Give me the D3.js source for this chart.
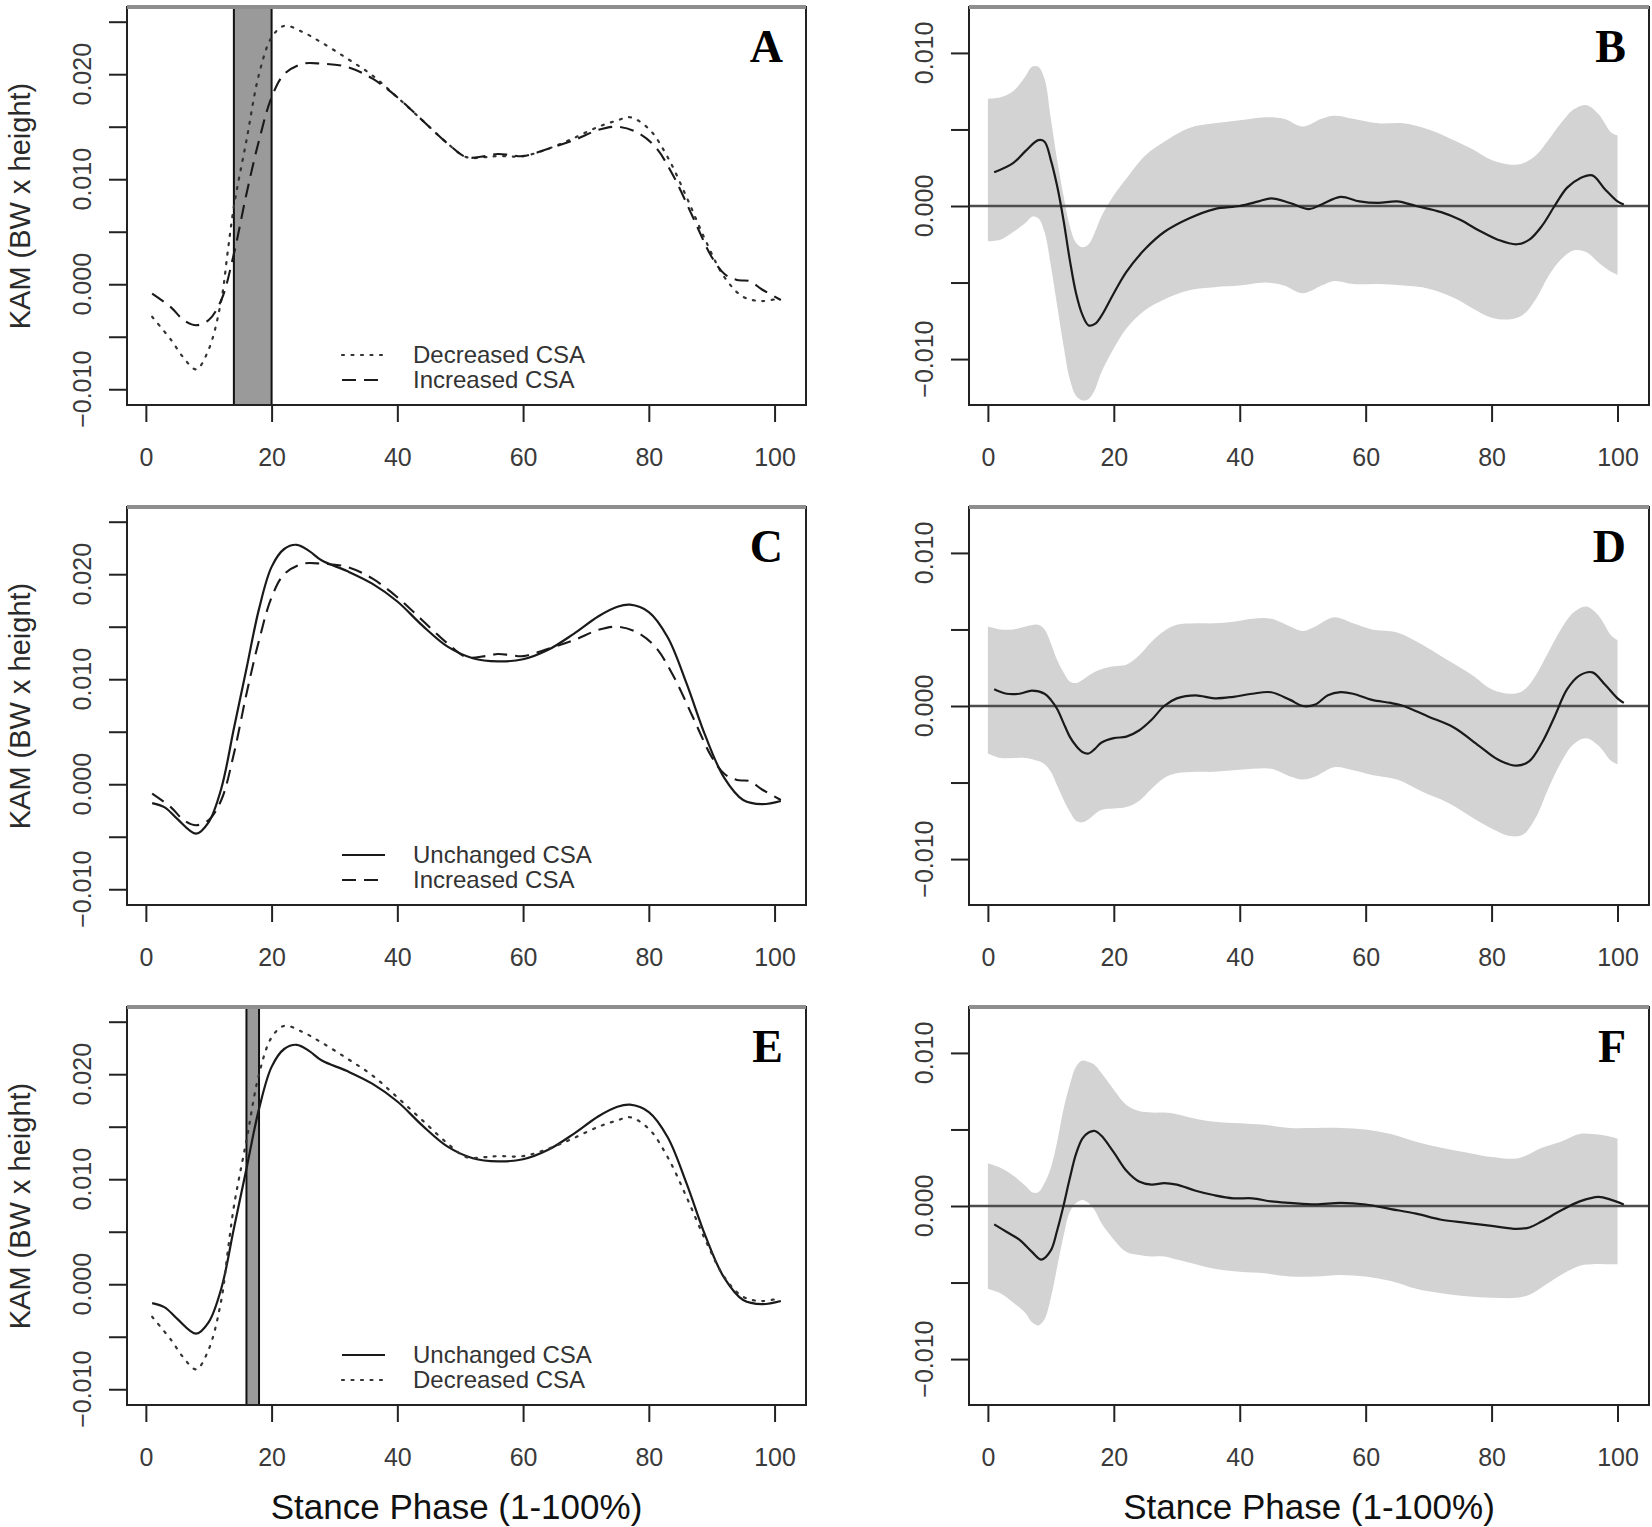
<!DOCTYPE html>
<html><head><meta charset="utf-8">
<script src="https://cdn.jsdelivr.net/npm/d3@7"></script>
<style>body{margin:0;background:#fff} svg{display:block}</style>
</head><body>
<svg id="c" width="1652" height="1527"></svg>
<script>
// ---------- tick definitions ----------
const xTicks = [0, 20, 40, 60, 80, 100];
const kamTicks = [-0.010, -0.005, 0, 0.005, 0.010, 0.015, 0.020, 0.025];
const kamLabels = [-0.010, 0, 0.010, 0.020];
const diffTicks = [-0.010, -0.005, 0, 0.005, 0.010];
const diffLabels = [-0.010, 0, 0.010];
const xTitle = "Stance Phase (1-100%)";
const yTitle = "KAM (BW x height)";

// ---------- KAM curves (x = stance %, value) ----------
const unchangedX = [1,3,5,8,10,12,14,16,18,20,22,24,26,28,32,36,40,44,48,52,56,60,64,68,72,75,77,80,83,86,89,92,95,98,101];
const unchangedCSA = [-0.0018,-0.0022,-0.0033,-0.0047,-0.0036,-0.0004,0.0053,0.0110,0.0167,0.0207,0.0224,0.0228,0.0222,0.0213,0.0203,0.0191,0.0174,0.0151,0.0131,0.0120,0.0117,0.0119,0.0128,0.0143,0.0160,0.0169,0.0171,0.0164,0.0140,0.0096,0.0046,0.0006,-0.0015,-0.0019,-0.0016];

const increasedX = [1,4,6,8,10,12,14,16,18,20,22,25,28,32,36,40,44,48,51,54,56,58,60,64,68,72,75,78,81,84,87,90,92,94,96,98,101];
const increasedCSA = [-0.0009,-0.0022,-0.0034,-0.0039,-0.0034,-0.0015,0.0029,0.0086,0.0137,0.0178,0.0200,0.0210,0.0210,0.0207,0.0196,0.0178,0.0156,0.0134,0.0121,0.0122,0.0124,0.0123,0.0122,0.0129,0.0137,0.0147,0.0150,0.0145,0.0131,0.0102,0.0064,0.0026,0.0010,0.0004,0.0003,-0.0005,-0.0015];

const decreasedX = [1,4,6,8,10,12,13,14,16,18,20,22,25,28,32,36,40,44,48,51,54,56,60,64,68,72,75,77,80,83,86,89,92,95,98,101];
const decreasedCSA = [-0.0031,-0.0053,-0.0070,-0.0081,-0.0062,-0.0015,0.0030,0.0074,0.0137,0.0200,0.0235,0.0246,0.0240,0.0230,0.0215,0.0199,0.0178,0.0156,0.0134,0.0121,0.0121,0.0122,0.0122,0.0129,0.0139,0.0150,0.0156,0.0159,0.0148,0.0121,0.0083,0.0042,0.0007,-0.0012,-0.0016,-0.0013];

// ---------- difference panels ----------
const bBandX = [0,2,4,6,7,8,9,10,11,12,13,14,15,16,17,18,20,22,25,28,32,36,40,44,47,50,53,55,58,62,66,70,74,77,80,83,85,87,89,91,93,95,97,99,100];
const bUpper = [0.0070,0.0071,0.0075,0.0085,0.0091,0.0091,0.0083,0.0057,0.0030,0.0007,-0.0013,-0.0024,-0.0027,-0.0025,-0.0017,-0.0007,0.0007,0.0018,0.0033,0.0042,0.0051,0.0054,0.0056,0.0058,0.0057,0.0052,0.0057,0.0059,0.0057,0.0054,0.0054,0.0050,0.0043,0.0037,0.0030,0.0027,0.0028,0.0033,0.0043,0.0054,0.0063,0.0066,0.0060,0.0048,0.0046];
const bLower = [-0.0023,-0.0022,-0.0017,-0.0011,-0.0007,-0.0008,-0.0017,-0.0039,-0.0065,-0.0091,-0.0113,-0.0124,-0.0127,-0.0126,-0.0120,-0.0109,-0.0093,-0.0080,-0.0068,-0.0061,-0.0055,-0.0053,-0.0052,-0.0050,-0.0052,-0.0057,-0.0052,-0.0049,-0.0051,-0.0051,-0.0052,-0.0054,-0.0060,-0.0067,-0.0073,-0.0074,-0.0071,-0.0061,-0.0046,-0.0035,-0.0029,-0.0030,-0.0037,-0.0043,-0.0045];
const bMeanX = [1,4,6,8,9,10,11,12,13,14,15,16,17,18,20,22,25,28,32,36,40,43,45,48,51,53,56,59,62,65,68,72,75,78,81,84,86,88,90,92,94,96,98,100,101];
const bMean = [0.0022,0.0028,0.0036,0.0043,0.0042,0.0030,0.0013,-0.0009,-0.0035,-0.0057,-0.0071,-0.0078,-0.0077,-0.0072,-0.0057,-0.0043,-0.0028,-0.0017,-0.0008,-0.0002,0.0000,0.0003,0.0005,0.0002,-0.0002,0.0001,0.0006,0.0003,0.0002,0.0003,0.0000,-0.0004,-0.0009,-0.0016,-0.0022,-0.0025,-0.0022,-0.0013,0.0000,0.0012,0.0018,0.0020,0.0011,0.0003,0.0001];

const dBandX = [0,2,4,6,8,9,10,11,12,13,14,15,16,18,20,22,24,26,28,30,33,36,39,42,45,48,50,52,55,58,61,65,69,73,77,80,83,85,87,89,91,93,95,97,99,100];
const dUpper = [0.0052,0.0050,0.0050,0.0052,0.0053,0.0050,0.0041,0.0030,0.0022,0.0016,0.0015,0.0017,0.0020,0.0024,0.0026,0.0027,0.0033,0.0042,0.0049,0.0053,0.0054,0.0054,0.0055,0.0057,0.0057,0.0052,0.0049,0.0052,0.0058,0.0054,0.0050,0.0048,0.0040,0.0030,0.0020,0.0011,0.0008,0.0010,0.0020,0.0035,0.0050,0.0061,0.0065,0.0059,0.0046,0.0043];
const dLower = [-0.0031,-0.0034,-0.0034,-0.0034,-0.0036,-0.0038,-0.0043,-0.0052,-0.0061,-0.0069,-0.0075,-0.0076,-0.0074,-0.0068,-0.0067,-0.0066,-0.0062,-0.0054,-0.0047,-0.0044,-0.0043,-0.0043,-0.0042,-0.0041,-0.0041,-0.0046,-0.0048,-0.0046,-0.0040,-0.0042,-0.0045,-0.0048,-0.0056,-0.0063,-0.0073,-0.0080,-0.0085,-0.0084,-0.0073,-0.0054,-0.0037,-0.0025,-0.0021,-0.0026,-0.0036,-0.0038];
const dMeanX = [1,3,5,7,9,10,11,12,13,14,15,16,17,18,20,22,24,26,28,30,33,36,39,42,45,48,50,52,54,56,58,61,64,66,70,74,78,81,84,86,88,90,92,94,96,98,100,101];
const dMean = [0.0011,0.0008,0.0008,0.0010,0.0008,0.0004,-0.0002,-0.0011,-0.0020,-0.0026,-0.0030,-0.0031,-0.0028,-0.0024,-0.0021,-0.0020,-0.0016,-0.0009,0.0000,0.0005,0.0007,0.0005,0.0006,0.0008,0.0009,0.0004,0.0000,0.0001,0.0007,0.0009,0.0008,0.0004,0.0002,0.0000,-0.0007,-0.0014,-0.0026,-0.0035,-0.0039,-0.0036,-0.0024,-0.0007,0.0011,0.0020,0.0022,0.0014,0.0005,0.0002];

const fBandX = [0,2,4,6,7,8,9,10,11,12,13,14,15,16,17,18,20,22,24,26,28,30,33,36,40,44,48,52,56,60,64,68,72,76,80,84,86,88,91,94,96,98,100];
const fUpper = [0.0028,0.0025,0.0020,0.0013,0.0009,0.0009,0.0015,0.0025,0.0042,0.0063,0.0079,0.0091,0.0095,0.0094,0.0092,0.0087,0.0076,0.0066,0.0062,0.0061,0.0061,0.0060,0.0057,0.0055,0.0054,0.0053,0.0051,0.0051,0.0051,0.0050,0.0047,0.0042,0.0038,0.0035,0.0032,0.0031,0.0034,0.0038,0.0042,0.0047,0.0047,0.0046,0.0044];
const fLower = [-0.0054,-0.0057,-0.0063,-0.0070,-0.0076,-0.0078,-0.0074,-0.0060,-0.0040,-0.0020,-0.0004,0.0002,0.0004,0.0002,-0.0003,-0.0011,-0.0022,-0.0030,-0.0032,-0.0033,-0.0033,-0.0035,-0.0038,-0.0041,-0.0043,-0.0044,-0.0046,-0.0046,-0.0045,-0.0046,-0.0049,-0.0054,-0.0057,-0.0059,-0.0060,-0.0060,-0.0058,-0.0053,-0.0045,-0.0039,-0.0038,-0.0038,-0.0038];
const fMeanX = [1,3,5,7,8.5,10,11,12,13,14,15,16,17,18,20,22,24,26,28,30,33,36,39,42,45,48,52,56,60,64,68,72,76,80,84,86,88,91,94,97,99,101];
const fMean = [-0.0012,-0.0017,-0.0022,-0.0030,-0.0035,-0.0029,-0.0016,0.0000,0.0018,0.0034,0.0044,0.0048,0.0049,0.0046,0.0035,0.0023,0.0016,0.0014,0.0015,0.0014,0.0010,0.0007,0.0005,0.0005,0.0003,0.0002,0.0001,0.0002,0.0001,-0.0002,-0.0005,-0.0009,-0.0011,-0.0013,-0.0015,-0.0014,-0.0010,-0.0003,0.0003,0.0006,0.0004,0.0001];

// ---------- build ----------
const zip = (xs, ys) => xs.map((x, i) => [x, ys[i]]);
const series = {
  unchanged: {pts: zip(unchangedX, unchangedCSA), label: "Unchanged CSA", style: "solid"},
  increased: {pts: zip(increasedX, increasedCSA), label: "Increased CSA", style: "dash"},
  decreased: {pts: zip(decreasedX, decreasedCSA), label: "Decreased CSA", style: "dot"}
};
const panels = [
  {id: "A", col: 0, row: 0, type: "kam", lines: ["decreased", "increased"], shade: [14, 20]},
  {id: "B", col: 1, row: 0, type: "diff", bandX: bBandX, up: bUpper, lo: bLower, mx: bMeanX, m: bMean},
  {id: "C", col: 0, row: 1, type: "kam", lines: ["unchanged", "increased"], shade: null},
  {id: "D", col: 1, row: 1, type: "diff", bandX: dBandX, up: dUpper, lo: dLower, mx: dMeanX, m: dMean},
  {id: "E", col: 0, row: 2, type: "kam", lines: ["unchanged", "decreased"], shade: [16, 18]},
  {id: "F", col: 1, row: 2, type: "diff", bandX: fBandX, up: fUpper, lo: fLower, mx: fMeanX, m: fMean}
];

const colLeft = [127, 969], colRight = [806, 1649];
const rowTop = r => 7 + 500 * r, rowBottom = r => 405 + 500 * r;
const sans = "'Liberation Sans', Arial, Helvetica, sans-serif";
const serif = "'Liberation Serif', 'Times New Roman', serif";
const styles = {
  solid: {stroke: "#1a1a1a", width: 2.2, dash: null},
  dash: {stroke: "#1a1a1a", width: 2.1, dash: "14,8"},
  dot: {stroke: "#333", width: 2.2, dash: "2,7.5"}
};
const fmt = d3.format(".3f");
const svg = d3.select("#c");
svg.append("rect").attr("width", 1652).attr("height", 1527).attr("fill", "#fff");

panels.forEach(p => {
  const L = colLeft[p.col], R = colRight[p.col], T = rowTop(p.row), B = rowBottom(p.row);
  const x = d3.scaleLinear().domain([-3, 105]).range([L, R]);
  const y = p.type === "kam"
    ? d3.scaleLinear().domain([-0.0115, 0.0264]).range([B, T])
    : d3.scaleLinear().domain([-0.013, 0.013]).range([B, T]);
  const g = svg.append("g");
  const clipId = "clip" + p.id;
  g.append("clipPath").attr("id", clipId).append("rect")
    .attr("x", L).attr("y", T).attr("width", R - L).attr("height", B - T);
  const plot = g.append("g").attr("clip-path", `url(#${clipId})`);
  const curve = d3.curveCatmullRom.alpha(0.5);

  if (p.type === "kam") {
    if (p.shade) {
      plot.append("rect")
        .attr("x", x(p.shade[0])).attr("y", T)
        .attr("width", x(p.shade[1]) - x(p.shade[0])).attr("height", B - T)
        .attr("fill", "#9a9a9a");
      p.shade.forEach(v => plot.append("line")
        .attr("x1", x(v)).attr("x2", x(v)).attr("y1", T).attr("y2", B)
        .attr("stroke", "#111").attr("stroke-width", 2));
    }
    const line = d3.line().x(d => x(d[0])).y(d => y(d[1])).curve(curve);
    p.lines.forEach(k => {
      const s = styles[series[k].style];
      plot.append("path").attr("d", line(series[k].pts))
        .attr("fill", "none").attr("stroke", s.stroke).attr("stroke-width", s.width)
        .attr("stroke-dasharray", s.dash).attr("stroke-linecap", k === "decreased" ? "round" : "butt");
    });
    // legend
    p.lines.forEach((k, i) => {
      const s = styles[series[k].style];
      const ly = T + 348 + i * 25;
      g.append("line").attr("x1", L + 215).attr("x2", L + 258).attr("y1", ly).attr("y2", ly)
        .attr("stroke", s.stroke).attr("stroke-width", s.width).attr("stroke-dasharray", s.dash)
        .attr("stroke-linecap", k === "decreased" ? "round" : "butt");
      g.append("text").attr("x", L + 286).attr("y", ly + 8)
        .attr("font-family", sans).attr("font-size", 24).attr("fill", "#333")
        .text(series[k].label);
    });
  } else {
    const bandPts = p.bandX.map((bx, i) => [bx, p.up[i], p.lo[i]]);
    const area = d3.area().x(d => x(d[0])).y0(d => y(d[2])).y1(d => y(d[1])).curve(curve);
    plot.append("path").attr("d", area(bandPts)).attr("fill", "#d3d3d3");
    plot.append("line").attr("x1", L).attr("x2", R).attr("y1", y(0)).attr("y2", y(0))
      .attr("stroke", "#4d4d4d").attr("stroke-width", 2.6);
    const line = d3.line().x(d => x(d[0])).y(d => y(d[1])).curve(curve);
    plot.append("path").attr("d", line(zip(p.mx, p.m)))
      .attr("fill", "none").attr("stroke", "#1a1a1a").attr("stroke-width", 2.2);
  }

  // box
  g.append("rect").attr("x", L).attr("y", T).attr("width", R - L).attr("height", B - T)
    .attr("fill", "none").attr("stroke", "#222").attr("stroke-width", 2);
  g.append("line").attr("x1", L).attr("x2", R).attr("y1", T).attr("y2", T)
    .attr("stroke", "#8e8e8e").attr("stroke-width", 4);

  // x axis
  const xa = g.append("g").attr("transform", `translate(0,${B})`)
    .call(d3.axisBottom(x).tickValues(xTicks).tickSize(17).tickSizeOuter(0).tickPadding(32).tickFormat(d3.format("d")));
  xa.select(".domain").attr("stroke", "#222").attr("stroke-width", 2)
    .attr("d", `M${x(0)},0H${x(100)}`);
  xa.selectAll(".tick line").attr("stroke", "#222").attr("stroke-width", 2);
  xa.selectAll(".tick text").attr("font-family", sans).attr("font-size", 25).attr("fill", "#3a3a3a")
    .attr("dy", "0.0em").attr("y", 61);

  // y axis
  const ticks = p.type === "kam" ? kamTicks : diffTicks;
  const labels = p.type === "kam" ? kamLabels : diffLabels;
  const ya = g.append("g").attr("transform", `translate(${L},0)`)
    .call(d3.axisLeft(y).tickValues(ticks).tickSize(18).tickSizeOuter(0).tickFormat(""));
  ya.select(".domain").remove();
  ya.selectAll(".tick line").attr("stroke", "#222").attr("stroke-width", 2);
  labels.forEach(v => {
    g.append("text")
      .attr("transform", `translate(${L - 36},${y(v)}) rotate(-90)`)
      .attr("text-anchor", "middle")
      .attr("font-family", sans).attr("font-size", 25).attr("fill", "#3a3a3a")
      .text(fmt(v));
  });

  // panel letter
  g.append("text").attr("x", R - 23).attr("y", T + 55).attr("text-anchor", "end")
    .attr("font-family", serif).attr("font-weight", "bold").attr("font-size", 46).attr("fill", "#000")
    .text(p.id);

  // y title (left column)
  if (p.col === 0) {
    g.append("text")
      .attr("transform", `translate(30,${(T + B) / 2}) rotate(-90)`)
      .attr("text-anchor", "middle")
      .attr("font-family", sans).attr("font-size", 29).attr("fill", "#2a2a2a")
      .text(yTitle);
  }
  // x title (bottom row)
  if (p.row === 2) {
    g.append("text")
      .attr("x", (L + R) / 2 - (p.col === 0 ? 10 : 0)).attr("y", 1519)
      .attr("text-anchor", "middle")
      .attr("font-family", sans).attr("font-size", 35).attr("fill", "#111")
      .text(xTitle);
  }
});
</script>
</body></html>
